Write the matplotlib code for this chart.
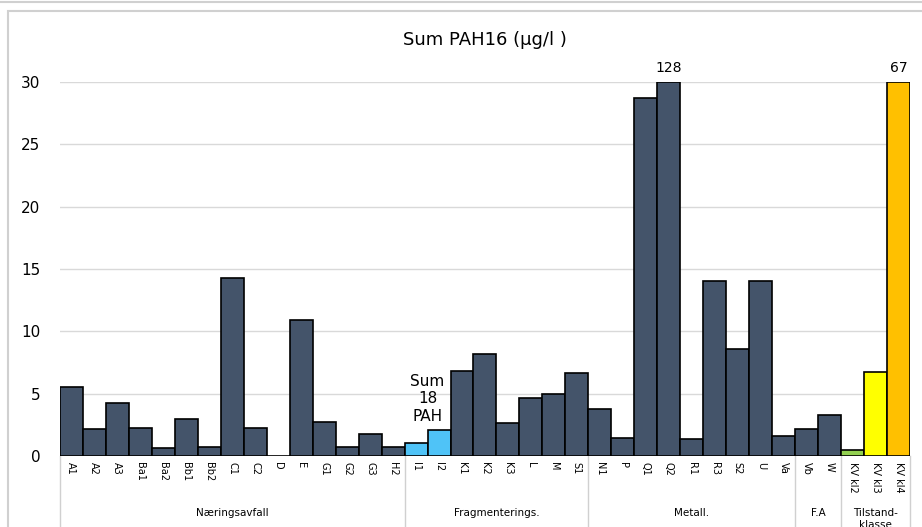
import matplotlib.pyplot as plt
from matplotlib.patches import Rectangle
from matplotlib.lines import Line2D

# Sample labels and Sum PAH16 values (µg/l)
labels = ["A1", "A2", "A3", "Ba1", "Ba2", "Bb1", "Bb2", "C1", "C2", "D", "E",
          "G1", "G2", "G3", "H2",
          "I1", "I2", "K1", "K2", "K3", "L", "M", "S1",
          "N1", "P", "Q1", "Q2", "R1", "R3", "S2", "U", "Va",
          "Vb", "W",
          "KV kl2", "KV kl3", "KV kl4"]
values = [5.5, 2.2, 4.25, 2.25, 0.65, 2.95, 0.7, 14.3, 2.25, 0.0, 10.9,
          2.75, 0.7, 1.8, 0.7,
          1.05, 2.1, 6.8, 8.2, 2.65, 4.65, 5.0, 6.65,
          3.8, 1.45, 28.7, 128, 1.4, 14.0, 8.6, 14.0, 1.6,
          2.15, 3.25,
          0.5, 6.7, 67]

groups = ["Næringsavfall", "Fragmenterings.", "Metall.", "F.A", "Tilstand-\nklasse"]
group_sizes = [15, 8, 9, 2, 3]

dark = "#44546a"
colors = [dark] * len(labels)
colors[15] = colors[16] = "#4fc3f7"
colors[34] = "#92d050"
colors[35] = "#ffff00"
colors[36] = "#ffc000"

ymax = 30
fig = plt.figure(figsize=(9.22, 5.27), dpi=100)
ax = fig.add_axes([0.065, 0.1347, 0.922, 0.7097])

x = list(range(len(labels)))
shown = [min(v, ymax) for v in values]
ax.bar(x, shown, width=1.0, color=colors, edgecolor="black", linewidth=1.2, zorder=3)

ax.set_xlim(-0.5, len(labels) - 0.5)
ax.set_ylim(0, ymax)
ax.set_yticks(range(0, 31, 5))
ax.tick_params(axis="y", length=0, pad=14, labelsize=11)
ax.set_xticks(x)
ax.set_xticklabels(labels, rotation=-90, fontsize=7)
ax.tick_params(axis="x", length=0, pad=4)
ax.grid(axis="y", color="#d9d9d9", linewidth=1, zorder=0)
for s in ax.spines.values():
    s.set_visible(False)

# values above the clipped bars
for i, v in enumerate(values):
    if v > ymax:
        ax.text(i, ymax + 0.6, f"{v:g}", ha="center", va="bottom", fontsize=10)

ax.text(15.5, 2.6, "Sum\n18\nPAH", ha="center", va="bottom", fontsize=11,
        linespacing=1.2)

ax.set_title("Sum PAH16 (µg/l )", fontsize=13, pad=27)

# group separators and group labels below the axis
trans = ax.get_xaxis_transform()
start = -0.5
bounds = [start]
for g, n in zip(groups, group_sizes):
    mid = start + n / 2
    ax.text(mid, -0.14, g, transform=trans, ha="center", va="top", fontsize=7.5,
            clip_on=False)
    start += n
    bounds.append(start)
for b in bounds:
    ax.add_line(Line2D([b, b], [0, -0.25], transform=trans, color="#d0d0d0",
                       linewidth=1, clip_on=False))

# outer chart frame
fig.add_artist(Rectangle((0.009, -0.05), 1.2, 1.03, transform=fig.transFigure,
                         fill=False, edgecolor="#d0d0d0", linewidth=1.5))
fig.add_artist(Line2D([0, 1], [0.997, 0.997], transform=fig.transFigure,
                      color="#d0d0d0", linewidth=1.5))

fig.savefig("out.png", dpi=100)
